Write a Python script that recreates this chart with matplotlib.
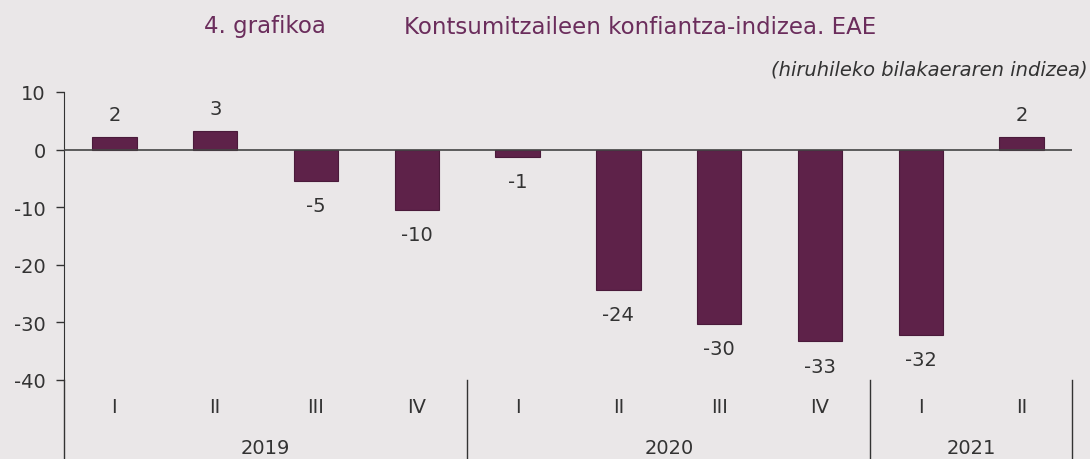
import matplotlib.pyplot as plt
from matplotlib.lines import Line2D

quarters = ["I", "II", "III", "IV", "I", "II", "III", "IV", "I", "II"]
years = ["2019", "2020", "2021"]
year_counts = [4, 4, 2]
values = [2.2, 3.3, -5.4, -10.4, -1.3, -24.3, -30.3, -33.3, -32.2, 2.2]
labels = ["2", "3", "-5", "-10", "-1", "-24", "-30", "-33", "-32", "2"]

bg = "#EAE7E8"
bar_col = "#5E2249"
txt = "#333333"
purple = "#6B2D5C"
fs = 14

plt.rcParams['font.family'] = ['DejaVu Sans']
plt.rcParams['axes.unicode_minus'] = False

fig = plt.figure(figsize=(10.9, 4.6), dpi=100, facecolor=bg)
ax = fig.add_axes([64/1090, 1-381/460, (1072-64)/1090, (381-93)/460])
ax.set_facecolor(bg)

x = list(range(len(values)))
ax.bar(x, values, width=0.44, color=bar_col, edgecolor="#4a1a3a", linewidth=0.8, zorder=2)
ax.axhline(0, color="#444444", linewidth=1.2, zorder=3)

for xi, v, lab in zip(x, values, labels):
    if v >= 0:
        ax.annotate(lab, (xi, v), xytext=(0, 9), textcoords="offset points",
                    ha="center", va="bottom", fontsize=fs, color=txt)
    else:
        ax.annotate(lab, (xi, v), xytext=(0, -11), textcoords="offset points",
                    ha="center", va="top", fontsize=fs, color=txt)

ax.set_xlim(-0.5, len(values) - 0.5)
ax.set_ylim(-40, 10)
ax.set_yticks([10, 0, -10, -20, -30, -40])
ax.tick_params(axis="y", labelsize=fs, colors=txt, length=6, width=1, pad=7)
ax.set_xticks([])
for s in ["top", "right", "bottom"]:
    ax.spines[s].set_visible(False)
ax.spines["left"].set_color("#333333")

# quarter and year labels below the axis
for xi, q in zip(x, quarters):
    ax.text(xi, -44.6, q, ha="center", va="center", fontsize=fs, color=txt, clip_on=False)

start = 0
for yr, n in zip(years, year_counts):
    ax.text(start + (n - 1) / 2, -51.7, yr, ha="center", va="center", fontsize=fs, color=txt, clip_on=False)
    start += n

# separators
fig.add_artist(Line2D([64/1090, 64/1090], [0, 1-381/460], color="#333333", linewidth=1))
start = 0
for n in year_counts:
    start += n
    xf = (64 + start * (1072 - 64) / len(values)) / 1090
    fig.add_artist(Line2D([xf, xf], [0, 1-381/460], color="#333333", linewidth=1))

fig.text(265/1090, 1-27/460, "4. grafikoa", ha="center", va="center", fontsize=16.5, color=purple)
fig.text(404/1090, 1-27/460, "Kontsumitzaileen konfiantza-indizea. EAE", ha="left", va="center",
         fontsize=16.5, color=purple)
fig.text(1088/1090, 1-70/460, "(hiruhileko bilakaeraren indizea)", ha="right", va="center",
         fontsize=14, style="italic", color=txt)

fig.savefig("out.png", dpi=100, facecolor=bg)
